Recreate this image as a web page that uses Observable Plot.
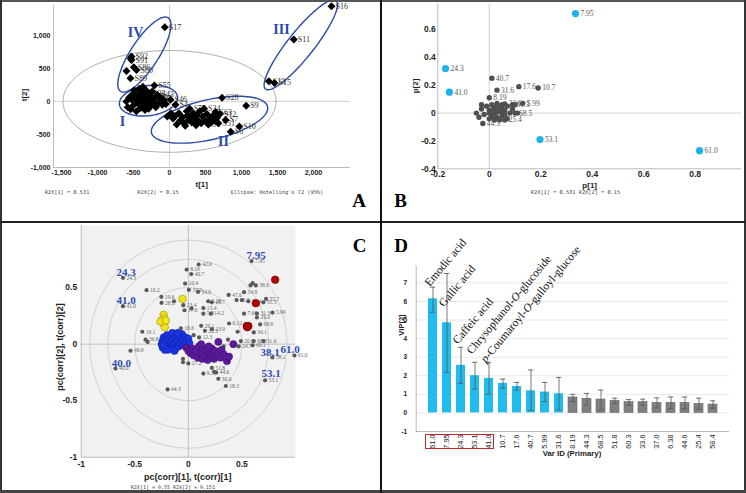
<!DOCTYPE html>
<html><head><meta charset="utf-8">
<script src="https://cdn.jsdelivr.net/npm/d3@7"></script>
<script src="https://cdn.jsdelivr.net/npm/@observablehq/plot@0.6"></script>
<style>
body{margin:0;background:#fff;}
#fig{position:relative;width:746px;height:493px;overflow:hidden;background:#fff;}
#fig svg{position:absolute;}
</style></head>
<body><div id="fig"></div>
<script>
// ================= DATA =================
// Panel A: PCA scores (t[1], t[2]) with sample labels ("" = unlabeled)
const aT1 = [-528,-528,-597,-495,-458,-542,-65,-540,
  2250,1727,1380,1458,
  -600,-580,-560,-540,-520,-510,-500,-490,-470,-460,-450,-440,-420,-410,-400,-390,-380,-370,-360,-350,-340,-330,-320,-310,-300,-290,-280,-270,-260,-250,-240,-220,-210,-200,-190,-170,-150,-130,-100,-80,-50,14,83,
  -30,20,50,80,100,130,150,180,200,220,240,250,260,280,300,310,330,350,370,380,400,420,440,460,480,500,520,540,560,580,600,620,640,660,680,700,730,780,850,970,1065];
const aT2 = [677,626,460,515,475,349,1121,650,
  1440,935,303,279,
  0,-90,60,-120,20,110,-60,170,40,-150,100,-30,190,60,-100,140,0,220,-70,90,-130,30,160,-40,80,-110,120,10,-60,60,150,-20,240,40,-90,100,-30,60,-50,20,-40,26,-50,
  -230,-180,-260,-220,-350,-180,-290,-240,-330,-370,-150,-210,-280,-110,-240,-320,-180,-260,-360,-210,-290,-150,-330,-230,-110,-300,-190,-350,-260,-320,-220,-290,-160,-250,-330,-190,56,-280,-460,-380,-65];
const aLab = ["S92","S91","","S86","S80","S89","S17","",
  "S16","S11","S13","S15",
  "","","","","","","","","","","","","","","","","","","","","","","","","S49","","S33","","","S40","","","S55","S37","","S43","","","","","","S46","S4",
  "","","","","","","","","","","","","","S75","","","","","","","","","","","S24","","","S1","","","","","S63","","S51","S12","S28","S7","S6","S10","S9"];
const hotellingA = 1480, hotellingB = 770;
const clusterName = ["I","II","III","IV"];
const clusterCx = [-292, 556, 1824, -349];
const clusterCy = [11, -277, 856, 708];
const clusterUx = [403, 806, 490, 331];
const clusterUy = [61, 197, 670, 556];
const clusterVx = [29, 61, 141, 163];
const clusterVy = [-225, -295, -123, -115];
const clusterLabelX = [-653, 750, 1556, -472];
const clusterLabelY = [-309, -611, 1086, 1041];

// Panel B: loadings p[1], p[2]
const bKeyId = ["7.95","24.3","41.0","53.1","61.0"];
const bKeyP1 = [0.335,-0.17,-0.155,0.197,0.817];
const bKeyP2 = [0.715,0.32,0.15,-0.19,-0.27];
const bId = ["40.7","31.6","17.6","10.7","8.19","5.99","44.3","33.6","60.3","68.5","25.4",
  "","","","","","","","","","","","","","","","","","","","","","","","","","","","","","","","",""];
const bP1 = [0.01,0.03,0.115,0.19,0.0,0.13,-0.025,0.06,0.09,0.1,0.06,
  -0.05,-0.04,-0.03,-0.02,-0.01,0.0,0.0,0.01,0.01,0.02,0.02,0.03,0.03,0.04,0.04,0.05,0.05,0.06,0.06,0.07,0.07,0.08,0.09,0.1,0.11,-0.03,0.0,0.02,0.04,0.05,0.03,0.015,0.045];
const bP2 = [0.25,0.165,0.19,0.18,0.11,0.07,-0.075,0.065,0.06,0.0,-0.05,
  0.0,-0.03,0.03,-0.01,0.05,-0.04,0.02,0.06,-0.02,0.0,0.04,-0.03,0.07,0.01,-0.05,0.03,0.06,-0.01,0.02,-0.04,0.05,0.0,0.03,0.06,0.0,0.06,0.0,-0.05,0.04,-0.02,0.01,0.025,0.015];

// Panel C: correlation loadings (gray) and correlation scores (coloured groups)
const cVarX = [0.59,-0.61,-0.61,-0.68,0.785,0.99,0.716,0.096,-0.016,0.027,-0.03,0.005,0.09,-0.39,-0.252,-0.25,-0.134,-0.047,-0.036,0.03,0.14,0.185,0.218,0.376,0.52,0.58,0.6,0.63,0.725,0.70,0.785,0.45,0.5,0.56,0.52,0.64,0.64,0.67,0.38,0.46,0.61,0.21,0.14,0.12,0.155,0.22,-0.43,-0.4,-0.38,-0.54,-0.194,0.35,0.28,0.24,0.26,0.22,0.14,-0.05,-0.05,0.0,0.61,0.6,0.7,0.49,0.47,-0.07,0.1,0.05,0.37,0.33];
const cVarY = [0.735,0.587,0.336,-0.215,-0.118,-0.10,-0.32,0.705,0.66,0.62,0.536,0.48,0.462,0.478,0.419,0.366,0.38,0.345,0.30,0.316,0.32,0.38,0.37,0.436,0.46,0.52,0.54,0.52,0.40,0.37,0.28,0.39,0.39,0.38,0.27,0.27,0.236,0.175,0.183,0.11,0.104,0.27,0.27,0.162,0.118,0.133,0.11,0.04,0.02,-0.058,-0.40,-0.37,-0.306,-0.245,-0.25,-0.21,-0.26,-0.13,-0.16,-0.17,0.027,-0.01,0.027,0.027,-0.02,0.14,0.06,0.08,0.04,-0.02];
const cVarId = ["7.95","24.3","41.0","40.0","38.1","61.0","53.1","42.9","8.19","40.7","10.4","37.0","34.6","10.2","19.6","28.0","","23.4","17.6","","13.4","5.28","16.7","47.6","54.9","","","38.6","55.7","35.3","5.99","60.6","","36.4","7.60","31.3","29.0","68.6","6.12","","34.1","14.2","5.8","20.1","22.5","23.9","19.1","36.8","","49.9","44.3","18.3","30.0","","44.6","51.8","9.38","","","27.2","60.3","69.1","31.6","20.0","24.7","18.6","12.3","","",""];
const cKeyId = ["7.95","24.3","41.0","40.0","38.1","61.0","53.1"];
const cKeyX = [0.632,-0.58,-0.58,-0.626,0.763,0.95,0.772];
const cKeyY = [0.788,0.634,0.39,-0.171,-0.077,-0.044,-0.26];
const groupIX = [-0.25,-0.24,-0.24,-0.23,-0.22,-0.22,-0.21,-0.2,-0.2,-0.19,-0.18,-0.18,-0.17,-0.16,-0.16,-0.15,-0.14,-0.14,-0.13,-0.12,-0.12,-0.11,-0.1,-0.09,-0.08,-0.07,-0.06,-0.05,-0.04,-0.03,-0.02,0.0,0.01,-0.23,-0.19,-0.15,-0.1,-0.13];
const groupIY = [0.0,-0.03,0.03,0.06,-0.05,0.01,0.04,-0.02,0.08,0.02,-0.04,0.05,0.0,0.07,-0.03,0.03,0.09,-0.01,0.05,0.01,-0.04,0.08,0.03,-0.02,0.06,0.01,0.09,0.04,-0.01,0.06,0.02,0.05,0.01,-0.01,-0.05,0.1,0.1,-0.06];
const groupIIX = [-0.02,0.0,0.02,0.04,0.05,0.07,0.09,0.1,0.12,0.13,0.14,0.16,0.17,0.18,0.2,0.21,0.22,0.23,0.24,0.25,0.26,0.28,0.28,0.3,0.31,0.33,0.36,0.38,0.42,0.12,0.19];
const groupIIY = [-0.03,-0.06,-0.08,-0.04,-0.1,-0.06,-0.12,-0.02,-0.08,-0.13,-0.04,-0.1,-0.06,-0.14,-0.08,-0.11,-0.04,-0.09,-0.13,-0.06,-0.1,-0.08,0.02,-0.12,-0.05,-0.09,-0.15,-0.11,0.0,0.0,-0.02];
const groupIIIX = [0.81,0.63,0.545,0.56,0.55];
const groupIIIY = [0.57,0.362,0.16,0.16,0.15];
const groupIVX = [-0.054,-0.23,-0.23,-0.25,-0.23,-0.22,-0.26,-0.21];
const groupIVY = [0.40,0.26,0.23,0.21,0.18,0.15,0.20,0.21];
const cRadii = [0.5, 0.75, 0.92];

// Panel D: VIP[2] values with confidence intervals
const vipIds = ["61.0","7.95","24.3","53.1","41.0","10.7","17.6","40.7","5.99","31.6","8.19","44.3","68.5","51.8","60.3","33.6","37.0","6.38","44.6","25.4","58.4"];
const vipVal = [6.14,4.85,2.56,2.0,1.86,1.59,1.42,1.19,1.12,1.03,0.83,0.76,0.72,0.65,0.58,0.58,0.54,0.54,0.54,0.49,0.45];
const vipLo  = [5.42,2.18,1.59,1.28,1.01,1.33,1.23,0.14,0.61,0.16,0.61,0.43,0.16,0.5,0.41,0.41,0.27,0.22,0.22,0.18,0.25];
const vipHi  = [6.77,7.5,3.53,2.72,2.72,1.82,1.64,2.31,1.64,1.91,1.0,1.05,1.23,0.79,0.72,0.74,0.81,0.86,0.86,0.79,0.65];
const vipTopCount = 10;
const compNames = ["Emodic acid","Gallic acid","Caffeic acid","Chrysophanol-O-glucoside","p-Coumaroyl-O-galloyl-glucose"];
const compIds = ["61.0","7.95","24.3","53.1","41.0"];
const compAt = [6.9,5.8,3.8,3.26,2.8];
const boxedIds = ["61.0","7.95","24.3","53.1","41.0"];

// ================= HELPERS =================
const fig = document.getElementById("fig");
const SANS = "'Liberation Sans', Arial, sans-serif";
const SERIF = "'Liberation Serif', 'Times New Roman', serif";
const MONO = "'DejaVu Sans Mono', 'Liberation Mono', monospace";
function place(svg, left, top){ svg.style.left = left+"px"; svg.style.top = top+"px"; fig.appendChild(svg); return svg; }
function txt(s, cx, cy, css, rot=0){
  const d = document.createElement("div");
  d.textContent = s;
  d.style.cssText = `position:absolute;left:${cx}px;top:${cy}px;transform:translate(-50%,-50%) rotate(${rot}deg);white-space:nowrap;line-height:1;${css}`;
  fig.appendChild(d); return d;
}
function box(l,t,w,h,css){ const d=document.createElement("div"); d.style.cssText=`position:absolute;left:${l}px;top:${t}px;width:${w}px;height:${h}px;${css}`; fig.appendChild(d); return d; }
function ellipse(cx,cy,ux,uy,vx,vy,key,n=96){
  return d3.range(n+1).map(k=>{const t=2*Math.PI*k/n; return {x:cx+ux*Math.cos(t)+vx*Math.sin(t), y:cy+uy*Math.cos(t)+vy*Math.sin(t), key};});
}
const baseStyle = (fs)=>({fontFamily:SANS, fontSize:fs+"px", fontWeight:"bold", color:"#222", background:"transparent", overflow:"visible"});

// ================= PANEL A =================
const aPts = aT1.map((x,i)=>({x, y:aT2[i], label:aLab[i]}));
const hot = ellipse(0,0,hotellingA,0,0,hotellingB,"h");
const clus = clusterName.flatMap((n,i)=>ellipse(clusterCx[i],clusterCy[i],clusterUx[i],clusterUy[i],clusterVx[i],clusterVy[i],n));
const clusLab = clusterName.map((n,i)=>({n, x:clusterLabelX[i], y:clusterLabelY[i]}));
const aX0=-1611, aY0=-1000;
const A = Plot.plot({
  width:380, height:222, marginLeft:53, marginRight:30, marginTop:5, marginBottom:55,
  style: baseStyle(7),
  x:{domain:[aX0,2514], ticks:[-1500,-1000,-500,0,500,1000,1500,2000], tickSize:0, tickPadding:3, tickFormat:d=>d.toLocaleString("en-US"), label:null},
  y:{domain:[aY0,1450], ticks:[-1000,-500,0,500,1000], tickSize:0, tickPadding:3, tickFormat:d=>d.toLocaleString("en-US"), label:null},
  marks:[
    Plot.ruleY([0],{stroke:"#c4c4c4", strokeWidth:0.8}),
    Plot.ruleX([0],{stroke:"#c4c4c4", strokeWidth:0.8}),
    Plot.ruleX([aX0],{stroke:"#aaa", strokeWidth:0.8}),
    Plot.ruleY([aY0],{stroke:"#aaa", strokeWidth:0.8}),
    Plot.line(hot,{x:"x",y:"y",stroke:"#9a9a9a",strokeWidth:0.8,curve:"linear"}),
    Plot.line(clus,{x:"x",y:"y",z:"key",stroke:"#2a4aa8",strokeWidth:1.4}),
    Plot.text(aPts.filter(d=>d.label),{x:"x",y:"y",text:"label",dx:4,textAnchor:"start",fontFamily:SERIF,fontSize:8,fontWeight:"normal",fill:"#333"}),
    Plot.dot(aPts,{x:"x",y:"y",symbol:"diamond2",r:3.6,fill:"#000",stroke:"none"}),
    Plot.text(clusLab,{x:"x",y:"y",text:"n",fontFamily:SERIF,fontSize:14,fontWeight:"bold",fill:"#2a4aa8"})
  ]
});
place(A,0,0);

// ================= PANEL B =================
const bKey = bKeyId.map((id,i)=>({id,x:bKeyP1[i],y:bKeyP2[i]}));
const bVar = bId.map((id,i)=>({id,x:bP1[i],y:bP2[i]}));
const bX0=-0.2, bY0=-0.4;
const B = Plot.plot({
  width:365, height:222, marginLeft:56.3, marginRight:5, marginTop:3.3, marginBottom:53.7,
  style: baseStyle(8.5),
  x:{domain:[bX0,0.98], ticks:[-0.2,0,0.2,0.4,0.6,0.8], tickSize:0, tickPadding:2, tickFormat:d=>String(d), label:null},
  y:{domain:[bY0,0.785], ticks:[-0.4,-0.2,0,0.2,0.4,0.6], tickSize:0, tickPadding:2, tickFormat:d=>String(d), label:null},
  marks:[
    Plot.ruleY([0],{stroke:"#c4c4c4", strokeWidth:0.8}),
    Plot.ruleX([0],{stroke:"#c4c4c4", strokeWidth:0.8}),
    Plot.ruleX([bX0],{stroke:"#aaa", strokeWidth:0.8}),
    Plot.ruleY([bY0],{stroke:"#aaa", strokeWidth:0.8}),
    Plot.dot(bVar,{x:"x",y:"y",r:2.7,fill:"#4f4f4f",stroke:"none"}),
    Plot.text(bVar.filter(d=>d.id),{x:"x",y:"y",text:"id",dx:4,textAnchor:"start",fontFamily:SERIF,fontSize:7.5,fontWeight:"normal",fill:"#555"}),
    Plot.dot(bKey,{x:"x",y:"y",r:3.6,fill:"#1eb2ea",stroke:"none"}),
    Plot.text(bKey,{x:"x",y:"y",text:"id",dx:5,textAnchor:"start",fontFamily:SERIF,fontSize:7.5,fontWeight:"normal",fill:"#555"})
  ]
});
place(B,381,0);

// ================= PANEL C =================
const circ = cRadii.flatMap((r,i)=>ellipse(0,0,r,0,0,r,"c"+i,120));
const cVar = cVarX.map((x,i)=>({x,y:cVarY[i],id:cVarId[i]}));
const cKey = cKeyId.map((id,i)=>({id,x:cKeyX[i],y:cKeyY[i]}));
const grp = (X,Y)=>X.map((x,i)=>({x,y:Y[i]}));
const cX0=-1, cY0=-1;
const C = Plot.plot({
  width:380, height:271, marginLeft:80.7, marginRight:85, marginTop:3, marginBottom:36.3,
  style: baseStyle(8.5),
  x:{domain:[cX0,1], ticks:[-1,-0.5,0,0.5], tickSize:0, tickPadding:4, tickFormat:d=>String(d), label:null},
  y:{domain:[cY0,1.05], ticks:[-1,-0.5,0,0.5], tickSize:0, tickPadding:4, tickFormat:d=>String(d), label:null},
  marks:[
    Plot.frame({fill:"#f1f1f1", stroke:null}),
    Plot.line(circ,{x:"x",y:"y",z:"key",stroke:"#cdcdcd",strokeWidth:0.9}),
    Plot.ruleY([0],{stroke:"#b8b8b8", strokeWidth:0.8}),
    Plot.ruleX([0],{stroke:"#b8b8b8", strokeWidth:0.8}),
    Plot.ruleX([cX0],{stroke:"#aaa", strokeWidth:0.8}),
    Plot.ruleY([cY0],{stroke:"#aaa", strokeWidth:0.8}),
    Plot.text(cVar.filter(d=>d.id),{x:"x",y:"y",text:"id",dx:3.5,textAnchor:"start",fontFamily:SERIF,fontSize:5.5,fontWeight:"normal",fill:"#666"}),
    Plot.dot(cVar,{x:"x",y:"y",r:2.1,fill:"#5a5a5a",stroke:"none"}),
    Plot.dot(grp(groupIX,groupIY),{x:"x",y:"y",r:3.6,fill:"#1a34e0",stroke:"#0d1f99",strokeWidth:0.5}),
    Plot.dot(grp(groupIIX,groupIIY),{x:"x",y:"y",r:3.6,fill:"#5b1a9c",stroke:"#3a0f6a",strokeWidth:0.5}),
    Plot.dot(grp(groupIVX,groupIVY),{x:"x",y:"y",r:3.8,fill:"#f1e21e",stroke:"#a39400",strokeWidth:0.6}),
    Plot.dot(grp(groupIIIX,groupIIIY),{x:"x",y:"y",r:3.8,fill:"#b30000",stroke:"#700000",strokeWidth:0.6}),
    Plot.text(cKey,{x:"x",y:"y",text:"id",fontFamily:SERIF,fontSize:11,fontWeight:"bold",fill:"#2d4fb8"})
  ]
});
place(C,0,222);

// ================= PANEL D =================
const vip = vipIds.map((id,i)=>({id, v:vipVal[i], lo:vipLo[i], hi:vipHi[i], top:i<vipTopCount}));
const comp = compNames.map((n,i)=>({n, id:compIds[i], y:compAt[i]}));
const gridVals = [0,1,2,3,4,5,6,7];
const D = Plot.plot({
  width:365, height:271, marginLeft:34.7, marginRight:17, marginTop:43.6, marginBottom:62,
  style: baseStyle(6.5),
  x:{domain:vipIds, paddingInner:0.33, paddingOuter:0.25, tickSize:0, tickPadding:3, tickRotate:-90, label:null},
  y:{domain:[-1,7.9], ticks:[-1,0,1,2,3,4,5,6,7], tickSize:0, tickPadding:9, tickFormat:d=>String(d), label:null},
  marks:[
    Plot.ruleY(gridVals,{stroke:"#e2e2e2", strokeWidth:0.8}),
    Plot.ruleY([-1],{stroke:"#aaa", strokeWidth:0.8}),
    Plot.frame({anchor:"left", stroke:"#aaa", strokeWidth:0.8}),
    Plot.barY(vip,{x:"id",y:"v",fill:d=>d.top?"#21bcee":"#808080",stroke:d=>d.top?"none":"#666",strokeWidth:0.6}),
    Plot.ruleX(vip,{x:"id",y1:"lo",y2:"hi",stroke:"#555",strokeWidth:0.8}),
    Plot.tickY(vip,{x:"id",y:"lo",stroke:"#555",strokeWidth:0.8,insetLeft:1.8,insetRight:1.8}),
    Plot.tickY(vip,{x:"id",y:"hi",stroke:"#555",strokeWidth:0.8,insetLeft:1.8,insetRight:1.8}),
    Plot.text(comp,{x:"id",y:"y",text:"n",rotate:-50,textAnchor:"start",dx:-6,fontFamily:SERIF,fontSize:11.5,fontWeight:"normal",fill:"#111"})
  ]
});
place(D,381,222);
// italic O / p in compound names
D.querySelectorAll("text").forEach(t=>{
  const s=t.textContent;
  if (compNames.includes(s) && (s.includes("-O-") || s.startsWith("p-"))) {
    t.innerHTML = s.replace(/^p-/,'<tspan font-style="italic">p</tspan>-').replace(/-O-/,'-<tspan font-style="italic">O</tspan>-');
  }
});
// x tick labels: normal weight
D.querySelectorAll('g[aria-label="x-axis tick label"] text, g[aria-label="x-axis"] text').forEach(t=>{t.style.fontWeight="normal"; t.style.fontSize="7.3px";});
// red box around the five identified compounds (from the band scale)
{
  const xs = D.scale("x");
  const x1 = xs.apply(boxedIds[0]) + 381 - 3;
  const x2 = xs.apply(boxedIds[boxedIds.length-1]) + xs.bandwidth + 381 + 1;
  box(x1, 434, x2-x1, 15, "border:1.5px solid #c4262e;box-sizing:border-box;");
}

// ================= TEXT: titles, footers, letters =================
const tick = `font-family:${SANS};font-weight:bold;color:#222;`;
txt("t[1]",201.7,185,tick+"font-size:8px;");
txt("t[2]",25,94.5,tick+"font-size:8px;",-90);
txt("R2X[1] = 0.531",67,192.7,`font-family:${MONO};font-size:5.3px;color:#444;`);
txt("R2X[2] = 0.15",158,192.7,`font-family:${MONO};font-size:5.3px;color:#444;`);
txt("Ellipse: Hotelling's T2 (95%)",277,192.7,`font-family:${MONO};font-size:5.3px;color:#444;`);
txt("p[1]",589.7,185.5,tick+"font-size:8px;");
txt("p[2]",416.3,85.8,tick+"font-size:8px;",-90);
txt("R2X[1] = 0.531 R2X[2] = 0.15",575.5,193.3,`font-family:${MONO};font-size:5.3px;color:#444;`);
txt("pc(corr)[1], t(corr)[1]",187.7,477.3,tick+"font-size:9px;");
txt("pc(corr)[2], t(corr)[2]",60,346.7,tick+"font-size:9px;",-90);
txt("R2X[1] = 0.55   R2X[2] = 0.151",173,487.3,`font-family:${MONO};font-size:5px;color:#444;`);
txt("VIP[2]",402,325,tick+"font-size:7.5px;",-90);
txt("Var ID (Primary)",572,454,tick+"font-size:7.8px;");
const letter = `font-family:${SERIF};font-weight:bold;font-size:19px;color:#000;`;
txt("A",359,200,letter);
txt("B",400.5,199.5,letter);
txt("C",359.5,245,letter);
txt("D",401,245,letter);

// ================= FRAME LINES =================
box(0,0,746,2,"background:#555;");
box(0,0,2,493,"background:#333;");
box(744,0,2,493,"background:#333;");
box(0,490,746,3,"background:#444;");
box(0,221,746,2,"background:#222;");
box(380,0,1.5,493,"background:#111;");
</script>
</body></html>
